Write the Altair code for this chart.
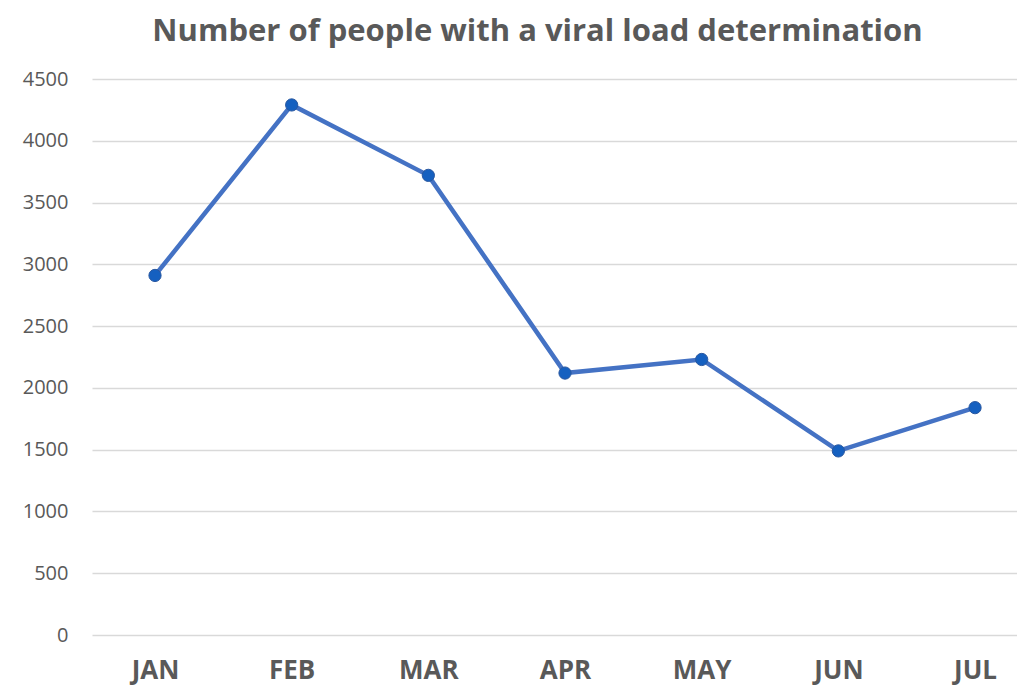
import altair as alt
import pandas as pd

months = ["JAN", "FEB", "MAR", "APR", "MAY", "JUN", "JUL"]
people = [2910, 4290, 3720, 2120, 2230, 1490, 1840]
y_ticks = [0, 500, 1000, 1500, 2000, 2500, 3000, 3500, 4000, 4500]

df = pd.DataFrame({"idx": list(range(len(months))), "month": months, "people": people})

label_expr = "[" + ",".join(f"'{m}'" for m in months) + "][datum.value]"

x = alt.X("idx:Q", title=None,
          scale=alt.Scale(domain=[-0.461, 6.307], nice=False, zero=False),
          axis=alt.Axis(values=list(range(len(months))), labelExpr=label_expr,
                        labelAngle=0, labelFont="Open Sans", labelFontSize=26,
                        labelFontWeight="bold", labelColor="#595959",
                        labelPadding=22, ticks=False, domain=False, grid=False,
                        labelFlush=False, labelOverlap=False))
y = alt.Y("people:Q", title=None,
          scale=alt.Scale(domain=[0, 4500], nice=False),
          axis=alt.Axis(values=y_ticks, format="d", labelFont="Open Sans", labelFontSize=20,
                        labelColor="#595959", labelPadding=24, ticks=False,
                        domain=False, grid=True, gridColor="#d9d9d9", gridWidth=1.5))

line = alt.Chart(df).mark_line(color="#4472C4", strokeWidth=4.5).encode(x=x, y=y)
pts = alt.Chart(df).mark_point(filled=True, size=150, color="#1560C0", opacity=1,
                               stroke="#2A58A0", strokeWidth=1).encode(x=x, y=y)

chart = (line + pts).properties(
    width=925, height=556,
    autosize=alt.AutoSizeParams(type="none"),
    padding={"left": 84, "top": 71, "right": 0, "bottom": 54},
    title=alt.TitleParams("Number of people with a viral load determination",
                          font="Open Sans", fontSize=31, fontWeight="bold",
                          color="#595959", anchor="middle", dx=-17, offset=21),
).configure_view(stroke=None)

chart.save("out.html", embed_options={"renderer": "svg", "actions": False})
